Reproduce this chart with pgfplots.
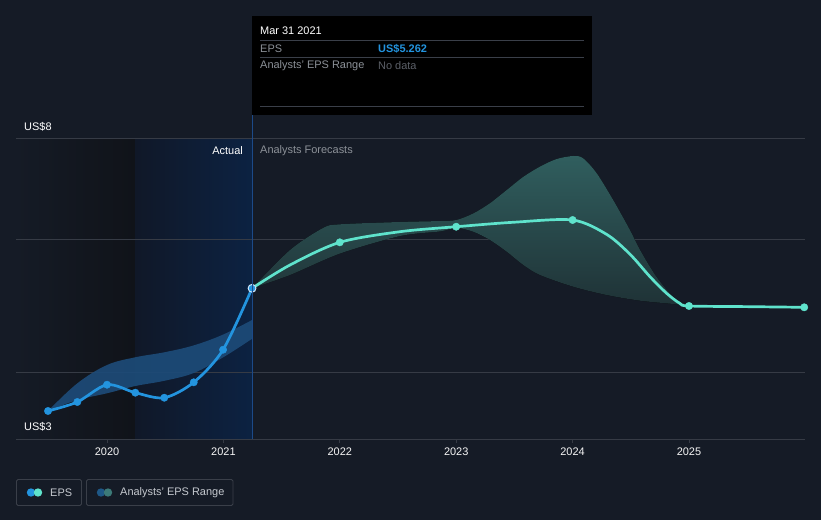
\documentclass[border=0pt]{standalone}
\usepackage{pgfplots}
\pgfplotsset{compat=1.18}
\usepgfplotslibrary{fillbetween}
\usepackage{fontspec}
\setmainfont{Liberation Sans}
\definecolor{bg}{HTML}{151B26}
\definecolor{darkreg}{HTML}{101319}
\definecolor{blueregL}{HTML}{101828}
\definecolor{blueregR}{HTML}{0C2242}
\definecolor{gridc}{HTML}{363B45}
\definecolor{epsc}{HTML}{2394DF}
\definecolor{fcc}{HTML}{5FE3CC}
\definecolor{pastband}{HTML}{1D4B78}
\definecolor{fbtop}{HTML}{305E5E}
\definecolor{fbbot}{HTML}{1F3236}
\definecolor{vline}{HTML}{1C4A88}
\definecolor{txtgray}{HTML}{8C9198}
\definecolor{txtdark}{HTML}{5C6068}
\definecolor{legbord}{HTML}{3A3F49}
\definecolor{legtxt}{HTML}{C5C9CF}
\definecolor{markring}{HTML}{CDE4F8}
\definecolor{legband1}{HTML}{1E5887}
\definecolor{legband2}{HTML}{3C7A78}
\pagecolor{bg}
\begin{document}
\begin{tikzpicture}
\begin{scope}[x=1bp,y=-1bp]
\path[use as bounding box] (0,0) rectangle (821,520);
\end{scope}
\begin{axis}[
  set layers,
  at={(16bp,-439bp)}, anchor=south west,
  width=789bp, height=300bp, scale only axis,
  xmin=2019.218, xmax=2025.997, ymin=3, ymax=8,
  axis line style={draw=none},
  xtick={2020,2021,2022,2023,2024,2025},
  xticklabels={2020,2021,2022,2023,2024,2025},
  xtick pos=bottom, tick align=outside,
  major tick length=4bp,
  tick style={draw=gridc, line width=0.8bp},
  ytick={3,4.111,6.333,8}, yticklabels={},
  ymajorgrids, xmajorgrids=false,
  major grid style={draw=gridc, line width=1bp},
  ytick style={draw=none},
  xticklabel style={font=\fontsize{11}{13}\selectfont, text=white!92!gray, yshift=-1bp},
  clip=true,
]
\begin{pgfonlayer}{axis background}
\shade[left color=bg, right color=darkreg] (axis cs:2019.218,3) rectangle (axis cs:2020.2405,8);
\shade[left color=blueregL, right color=blueregR] (axis cs:2020.2405,3) rectangle (axis cs:2021.246,8);
\end{pgfonlayer}
% past analyst band
\addplot[name path=pu, draw=none, smooth, tension=0.6] coordinates {
(2019.493,3.467) (2019.745,3.928) (2020.0,4.233) (2020.243,4.362) (2020.492,4.445) (2020.745,4.56) (2020.997,4.74) (2021.246,4.983)};
\addplot[name path=pl, draw=none, smooth, tension=0.6] coordinates {
(2019.493,3.467) (2019.745,3.65) (2020.0,3.762) (2020.243,3.883) (2020.492,3.97) (2020.745,4.10) (2020.997,4.36) (2021.246,4.67)};
\addplot[fill=pastband, fill opacity=0.92] fill between[of=pu and pl];
% forecast band
\addplot[name path=fu, draw=none, smooth, tension=0.5] coordinates {
(2021.246,5.512) (2021.572,6.15) (2021.856,6.517) (2022.0,6.578) (2022.517,6.617) (2022.861,6.633) (2023.0,6.65) (2023.147,6.76) (2023.29,6.93) (2023.434,7.15) (2023.577,7.37) (2023.72,7.54) (2023.863,7.667) (2024.006,7.717) (2024.09,7.68) (2024.207,7.43) (2024.35,6.98) (2024.493,6.483) (2024.58,6.15) (2024.72,5.705) (2024.865,5.372) (2025.0,5.217)};
\addplot[name path=fl, draw=none, smooth, tension=0.5] coordinates {
(2021.246,5.512) (2021.572,5.733) (2022.0,6.09) (2022.517,6.383) (2022.861,6.46) (2023.0,6.52) (2023.147,6.455) (2023.29,6.317) (2023.434,6.122) (2023.577,5.9) (2023.72,5.733) (2024.006,5.538) (2024.292,5.4) (2024.58,5.305) (2024.865,5.25) (2025.0,5.217)};
\addplot[top color=fbtop, bottom color=fbbot, draw=none] fill between[of=fu and fl];
% EPS actual
\addplot[epsc, line width=2.7bp, smooth, tension=0.5] coordinates {
(2019.493,3.467) (2019.745,3.617) (2020.0,3.905) (2020.243,3.772) (2020.492,3.688) (2020.745,3.945) (2020.997,4.488) (2021.246,5.512)};
% EPS forecast
\addplot[fcc, line width=2.7bp, smooth, tension=0.5] coordinates {
(2021.246,5.512) (2021.572,5.9) (2022.0,6.278) (2022.517,6.455) (2023.0,6.538) (2023.49,6.612) (2024.0,6.65) (2024.293,6.41) (2024.493,6.08) (2024.665,5.705) (2024.808,5.428) (2024.92,5.262) (2025.0,5.217) (2025.5,5.206) (2025.99,5.195)};
\addplot[only marks, mark=*, mark size=3.7bp, epsc, mark options={draw=none}] coordinates {
(2019.493,3.467) (2019.745,3.617) (2020.0,3.905) (2020.243,3.772) (2020.492,3.688) (2020.745,3.945) (2020.997,4.488)};
\addplot[only marks, mark=*, mark size=3.7bp, fcc, mark options={draw=none}] coordinates {
(2022.0,6.278) (2023.0,6.538) (2024.0,6.65) (2025.0,5.217) (2025.99,5.195)};
\addplot[only marks, mark=*, mark size=3.9bp, mark options={fill=epsc, draw=markring, line width=1bp}] coordinates {(2021.246,5.512)};
\end{axis}
\begin{scope}[x=1bp,y=-1bp, font=\fontsize{11}{13}\selectfont]
\draw[vline, line width=1bp] (252,115) -- (252,439);
% tooltip
\fill[black] (252,16) rectangle (592,115);
\draw[legbord, line width=0.8bp] (260,40.5) -- (584,40.5);
\draw[legbord, line width=0.8bp] (260,57.5) -- (584,57.5);
\draw[legbord, line width=0.8bp] (260,106.5) -- (584,106.5);
\node[anchor=west, inner sep=0, text=white] at (260,31) {Mar 31 2021};
\node[anchor=west, inner sep=0, text=txtgray] at (260,48.5) {EPS};
\node[anchor=west, inner sep=0, text=epsc] at (378,48.5) {\bfseries US\$5.262};
\node[anchor=west, inner sep=0, text=txtgray] at (260,65.5) {Analysts' EPS Range};
\node[anchor=west, inner sep=0, text=txtdark] at (378,65.5) {No data};
% region labels
\node[anchor=east, inner sep=0, text=white] at (243,151) {Actual};
\node[anchor=west, inner sep=0, text=txtgray] at (260,151) {Analysts Forecasts};
% y labels
\node[anchor=west, inner sep=0, text=white] at (24,127) {US\$8};
\node[anchor=west, inner sep=0, text=white] at (24,427) {US\$3};
% legend
\draw[legbord, fill=bg, line width=0.8bp, rounded corners=1.5bp] (16.5,479.5) rectangle (81.5,505.5);
\fill[epsc] (31,492.5) circle (4.2);
\fill[fcc] (38,492.5) circle (4.2);
\node[anchor=west, inner sep=0, text=legtxt] at (50,492.5) {EPS};
\draw[legbord, fill=bg, line width=0.8bp, rounded corners=1.5bp] (86.5,479.5) rectangle (233,505.5);
\fill[legband1] (101,492.5) circle (4.2);
\fill[legband2] (108,492.5) circle (4.2);
\node[anchor=west, inner sep=0, text=legtxt] at (120,492.5) {Analysts' EPS Range};
\end{scope}
\end{tikzpicture}
\end{document}
